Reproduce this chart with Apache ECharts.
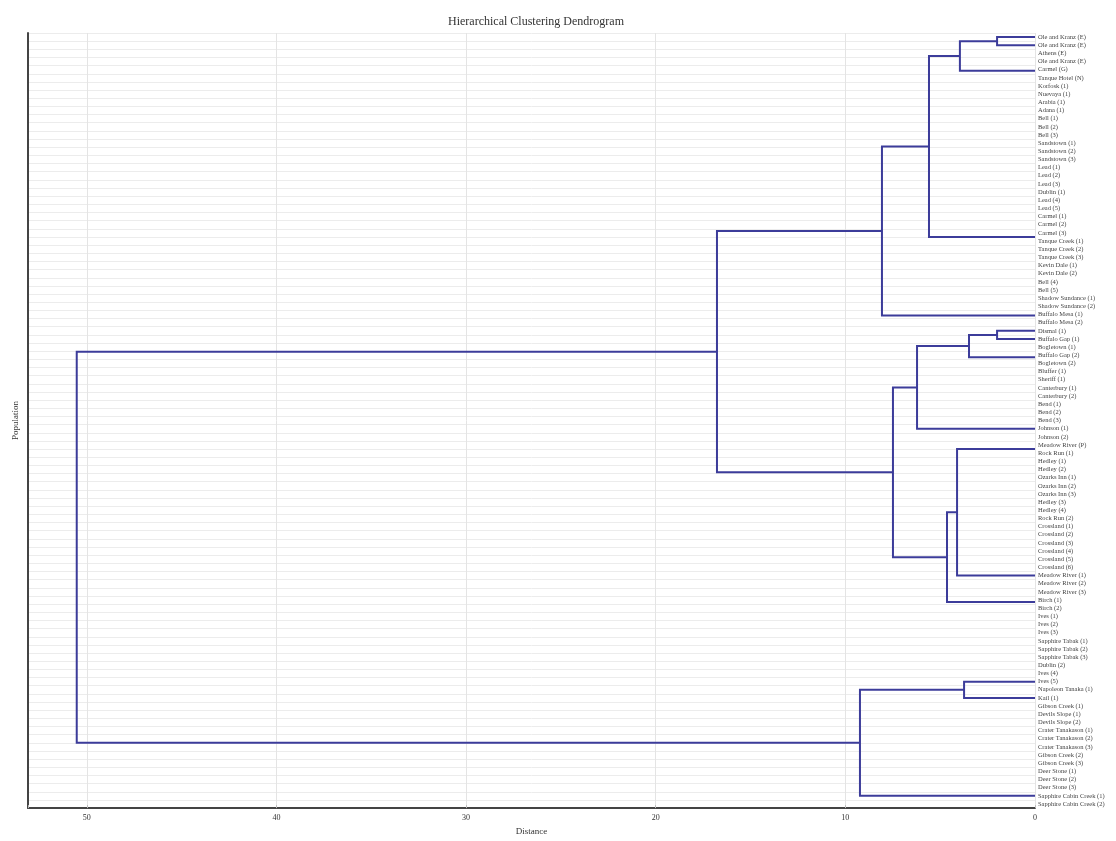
<!DOCTYPE html>
<html>
<head>
<meta charset="utf-8">
<script src="https://cdn.jsdelivr.net/npm/echarts@6/dist/echarts.min.js"></script>
<style>html,body{margin:0;padding:0;background:#fff}#c{width:1116px;height:841px}</style>
</head>
<body>
<div id="c"></div>
<script>
// Leaf labels, top to bottom
const leafLabels = [
  'Ole and Kranz (E)','Ole and Kranz (E)','Athens (E)','Ole and Kranz (E)','Carmel (G)','Tanque Hotel (N)',
  'Korfosk (1)','Nuevaya (1)','Arabia (1)','Adana (1)','Bell (1)','Bell (2)','Bell (3)',
  'Sandstown (1)','Sandstown (2)','Sandstown (3)','Lead (1)','Lead (2)','Lead (3)','Dublin (1)',
  'Lead (4)','Lead (5)','Carmel (1)','Carmel (2)','Carmel (3)','Tanque Creek (1)','Tanque Creek (2)',
  'Tanque Creek (3)','Kevin Dale (1)','Kevin Dale (2)','Bell (4)','Bell (5)',
  'Shadow Sundance (1)','Shadow Sundance (2)','Buffalo Mesa (1)','Buffalo Mesa (2)',
  'Dismal (1)','Buffalo Gap (1)','Bogletown (1)','Buffalo Gap (2)','Bogletown (2)',
  'Bluffer (1)','Sheriff (1)','Canterbury (1)','Canterbury (2)','Bend (1)','Bend (2)','Bend (3)',
  'Johnson (1)','Johnson (2)',
  'Meadow River (P)','Rock Run (1)','Hedley (1)','Hedley (2)','Ozarks Inn (1)','Ozarks Inn (2)',
  'Ozarks Inn (3)','Hedley (3)','Hedley (4)','Rock Run (2)','Crossland (1)','Crossland (2)',
  'Crossland (3)','Crossland (4)','Crossland (5)','Crossland (6)','Meadow River (1)','Meadow River (2)',
  'Meadow River (3)','Birch (1)','Birch (2)',
  'Ives (1)','Ives (2)','Ives (3)','Sapphire Tabak (1)','Sapphire Tabak (2)','Sapphire Tabak (3)',
  'Dublin (2)','Ives (4)','Ives (5)','Napoleon Tanaka (1)','Kail (1)','Gibson Creek (1)',
  'Devils Slope (1)','Devils Slope (2)','Crater Tanakason (1)','Crater Tanakason (2)','Crater Tanakason (3)',
  'Gibson Creek (2)','Gibson Creek (3)','Deer Stone (1)','Deer Stone (2)','Deer Stone (3)',
  'Sapphire Cabin Creek (1)','Sapphire Cabin Creek (2)'
];

// Runs of identical profiles (merged at distance 0, in order): [firstLeaf, lastLeaf]
const zeroRuns = [
  [0,0],[1,1],[2,5],[6,20],[21,31],[32,35],[36,36],[37,37],[38,40],[41,49],
  [50,51],[52,67],[68,70],[71,80],[81,81],[82,94]
];

// Linkage (scipy style): ids 0..15 are runs, each merge gets next id. [childA, childB, distance]
const linkage = [
  [0, 1, 2.0],     // 16
  [16, 2, 3.96],   // 17
  [3, 4, 0],       // 18
  [17, 18, 5.59],  // 19
  [19, 5, 8.07],   // 20
  [6, 7, 2.0],     // 21
  [21, 8, 3.48],   // 22
  [22, 9, 6.22],   // 23
  [10, 11, 4.11],  // 24
  [24, 12, 4.64],  // 25
  [23, 25, 7.49],  // 26
  [20, 26, 16.77], // 27
  [13, 14, 3.74],  // 28
  [28, 15, 9.23],  // 29
  [27, 29, 50.53]  // 30
];

const xTicks = [0, 10, 20, 30, 40, 50];

// ---- build dendrogram links from linkage ----
const pos = [], height = [];
zeroRuns.forEach(function (r) {
  let p = r[0];
  for (let i = r[0] + 1; i <= r[1]; i++) p = (p + i) / 2;
  pos.push(p); height.push(0);
});
const links = [];
linkage.forEach(function (m) {
  const a = m[0], b = m[1], d = m[2];
  if (d > 0) links.push([height[a], pos[a], d, pos[b], height[b]]);
  pos.push((pos[a] + pos[b]) / 2);
  height.push(d);
});

const FONT = "'Liberation Serif','DejaVu Serif',serif";
const chart = echarts.init(document.getElementById('c'), null, {renderer: 'canvas'});
chart.setOption({
  animation: false,
  backgroundColor: '#fff',
  title: {
    text: 'Hierarchical Clustering Dendrogram',
    left: 531, top: 11, textAlign: 'center',
    textStyle: {fontFamily: FONT, fontSize: 12, fontWeight: 'normal', color: '#333'}
  },
  grid: {left: 28, right: 81, top: 33, bottom: 29, containLabel: false},
  xAxis: {
    type: 'value', min: 0, max: 53.1, interval: 10, inverse: true,
    name: 'Distance', nameLocation: 'middle', nameGap: 14,
    nameTextStyle: {fontFamily: FONT, fontSize: 9, color: '#333'},
    axisLine: {show: true, onZero: false, lineStyle: {color: '#444', width: 2}},
    axisTick: {show: true, inside: true, length: 3, lineStyle: {color: '#bbb'}},
    axisLabel: {fontFamily: FONT, fontSize: 8, color: '#333', margin: 6,
      formatter: function (v) { return xTicks.indexOf(v) >= 0 ? String(v) : ''; }},
    splitLine: {show: true, lineStyle: {color: '#e4e4e4', width: 1}}
  },
  yAxis: [
    {
      type: 'category', data: leafLabels, inverse: true, position: 'right',
      axisLine: {show: false}, axisTick: {show: false},
      axisLabel: {fontFamily: FONT, fontSize: 6.5, color: '#444', margin: 3, interval: 0},
      splitLine: {show: true, interval: 0, lineStyle: {color: '#ececec', width: 1}}
    },
    {
      type: 'value', min: -0.5, max: leafLabels.length - 0.5, inverse: true, position: 'left',
      name: 'Population', nameLocation: 'middle', nameGap: 8, nameRotate: 90,
      nameTextStyle: {fontFamily: FONT, fontSize: 9, color: '#333'},
      axisLine: {show: true, onZero: false, lineStyle: {color: '#444', width: 2}},
      axisTick: {show: false}, axisLabel: {show: false}, splitLine: {show: false}
    }
  ],
  series: [{
    type: 'custom',
    xAxisIndex: 0, yAxisIndex: 1,
    clip: false,
    data: links,
    renderItem: function (params, api) {
      const d0 = api.value(0), y0 = api.value(1), d = api.value(2), y1 = api.value(3), d1 = api.value(4);
      return {
        type: 'polyline',
        shape: {points: [api.coord([d0, y0]), api.coord([d, y0]), api.coord([d, y1]), api.coord([d1, y1])]},
        style: {stroke: '#3c3c9a', lineWidth: 2, fill: null}
      };
    },
    encode: {x: [0, 2, 4], y: [1, 3]}
  }]
});
</script>
</body>
</html>
